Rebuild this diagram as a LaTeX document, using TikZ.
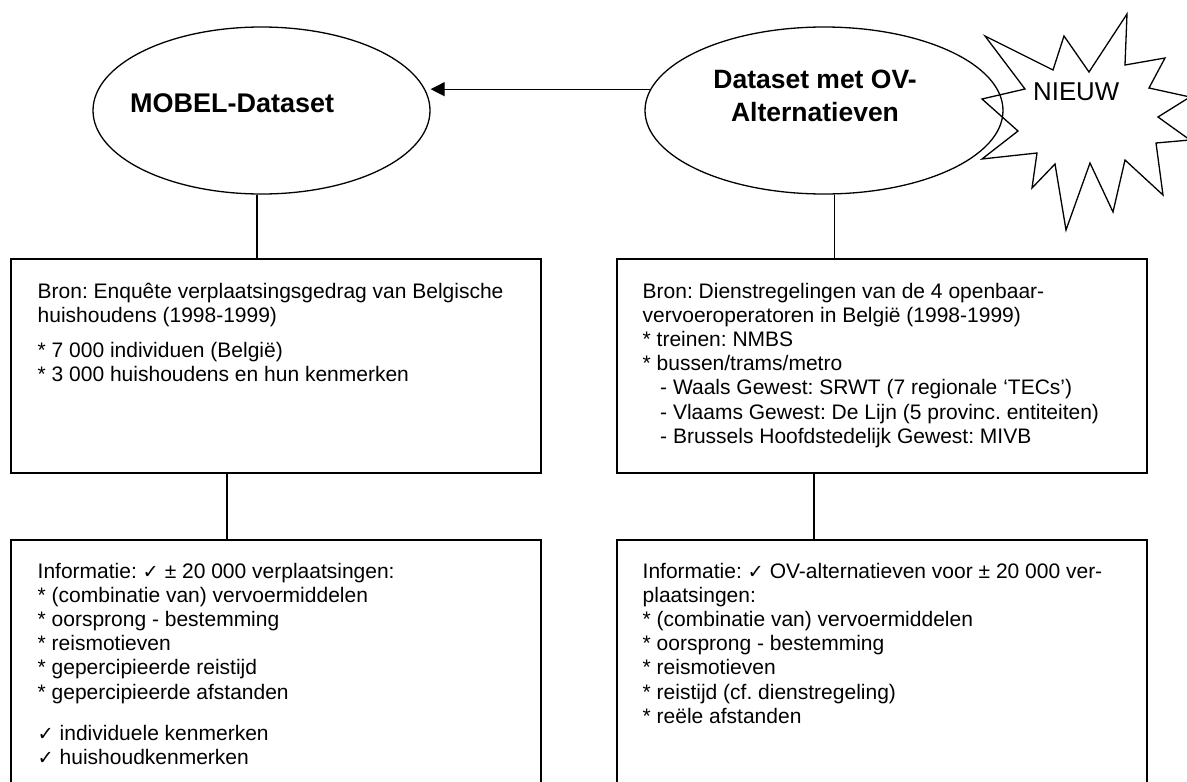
\documentclass[tikz,border=0pt]{standalone}
\usepackage{fontspec}
\setmainfont{Liberation Sans}
\newfontfamily\checkfont{DejaVu Sans}[Scale=0.92]
\usetikzlibrary{arrows.meta,shapes.geometric}
\newcommand{\ck}{{\checkfont ✓}}
\frenchspacing
\begin{document}
\begin{tikzpicture}[x=1pt,y=-1pt,
  ell/.style={draw, shape=ellipse, line width=1.3pt, inner sep=0pt},
  box/.style={draw, rectangle, line width=2pt, inner sep=0pt, anchor=north west},
  body/.style={anchor=base west, align=left, inner sep=0pt, font={\frenchspacing\fontsize{21}{24.2}\selectfont}},
  conn/.style={line width=1.3pt},
  ttl/.style={font={\bfseries\fontsize{27}{33.5}\selectfont}, inner sep=0pt, align=center},
  burst/.style={line width=1.3pt, line join=miter}
]
\useasboundingbox (0,0) rectangle (1187,782);
\clip (0,0) rectangle (1187,782);

% ellipses
\node[ell, minimum width=337pt, minimum height=167pt] (ell1) at (261.5,110.5) {};
\node[ell, minimum width=358pt, minimum height=167pt] (ell2) at (824,110.5) {};
\node[ttl, anchor=base west] (ell1t) at (130,112) {MOBEL-Dataset};
\node[ttl, anchor=base, font={\bfseries\fontsize{26.5}{33.5}\selectfont}] (ell2t) at (815,121.5) {Dataset met OV-\\Alternatieven};

% burst
\draw[burst] (985,36) -- (1053,70) -- (1064,36) -- (1089,72) -- (1127,14) -- (1125,65)
  -- (1165,58) -- (1149,88) -- (1190,97) -- (1158,117) -- (1190,140) -- (1156,143)
  -- (1163,195) -- (1125,160) -- (1113,212) -- (1090,163) -- (1066,230) -- (1055,164)
  -- (1032,188) -- (1037,153) -- (982,159) -- (1018,131) -- (982,99) -- (1025,89) -- cycle;
\node[anchor=base west, inner sep=0pt, font={\fontsize{25.8}{30}\selectfont}] (nieuw) at (1033,100) {NIEUW};

% boxes
\node[box, minimum width=530pt, minimum height=214pt] (b1) at (10,258) {};
\node[box, minimum width=530pt, minimum height=214pt] (b2) at (616,258) {};
\node[box, minimum width=530pt, minimum height=270pt] (b3) at (10,539) {};
\node[box, minimum width=530pt, minimum height=270pt] (b4) at (616,539) {};

\node[body] (b1t) at (37.5,381.6) {Bron: Enquête verplaatsingsgedrag van Belgische\\
huishoudens (1998-1999)\\[11pt]
* 7 000 individuen (België)\\
* 3 000 huishoudens en hun kenmerken};

\node[body] (b2t) at (642.5,443.2) {Bron: Dienstregelingen van de 4 openbaar-\\
vervoeroperatoren in België (1998-1999)\\
* treinen: NMBS\\
* bussen/trams/metro\\
\hspace*{17.5pt}- Waals Gewest: SRWT (7 regionale ‘TECs’)\\
\hspace*{17.5pt}- Vlaams Gewest: De Lijn (5 provinc. entiteiten)\\
\hspace*{17.5pt}- Brussels Hoofdstedelijk Gewest: MIVB};

\node[body] (b3t) at (37.5,764.4) {Informatie: \ck{} ± 20 000 verplaatsingen:\\
* (combinatie van) vervoermiddelen\\
* oorsprong - bestemming\\
* reismotieven\\
* gepercipieerde reistijd\\
* gepercipieerde afstanden\\[17pt]
\ck{} individuele kenmerken\\
\ck{} huishoudkenmerken};

\node[body] (b4t) at (642.5,723.2) {Informatie: \ck{} OV-alternatieven voor ± 20 000 ver-\\
plaatsingen:\\
* (combinatie van) vervoermiddelen\\
* oorsprong - bestemming\\
* reismotieven\\
* reistijd (cf. dienstregeling)\\
* reële afstanden};

% connectors
\draw[conn, -{Triangle[length=14pt,width=14pt]}] (ell2.173.9) -- (ell2.173.9 -| ell1.east);
\draw[conn] (ell1.-93.8) -- (ell1.-93.8 |- b1.north);
\draw[conn] (ell2.-83.8) -- (ell2.-83.8 |- b2.north);
\draw[conn] ([xshift=-49pt]b1.south) -- ([xshift=-49pt]b1.south |- b3.north);
\draw[conn] ([xshift=-68pt]b2.south) -- ([xshift=-68pt]b2.south |- b4.north);
\end{tikzpicture}
\end{document}
